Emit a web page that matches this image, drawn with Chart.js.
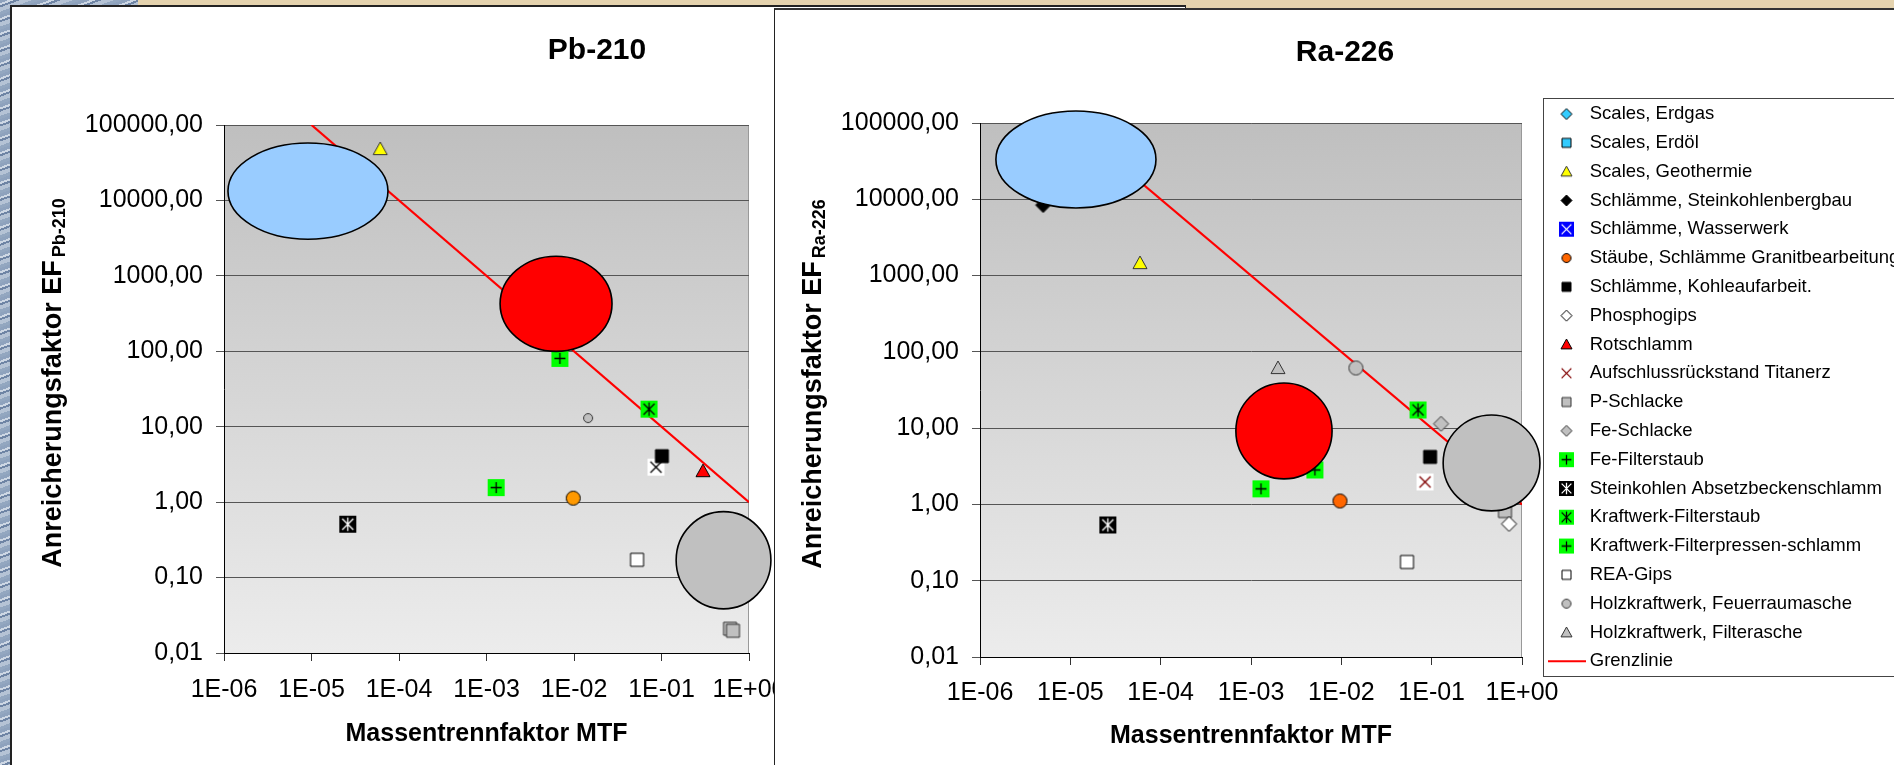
<!DOCTYPE html>
<html>
<head>
<meta charset="utf-8">
<script src="https://cdn.jsdelivr.net/npm/chart.js@4.4.1/dist/chart.umd.min.js"></script>
<style>
  html, body { margin: 0; padding: 0; }
  body { width: 1894px; height: 765px; overflow: hidden; position: relative; background: #e5d3ae; }
  .stone { position: absolute; left: 0; top: 0;
    background: repeating-linear-gradient(160deg, #8ea2bd 0 3px, #cdd7e4 3px 5px, #6e84a4 5px 7px, #b5c3d5 7px 11px, #93a7c0 11px 14px); }
  #stoneLeft { width: 10px; height: 765px; }
  #stoneTop { width: 138px; height: 5px; }
  #panelPb { position: absolute; left: 10px; top: 5px; width: 1173px; height: 800px; background: #fff;
    border-top: 2px solid #222; border-left: 2px solid #222; border-right: 1px solid #222; z-index: 1; }
  #panelRa { position: absolute; left: 774px; top: 8px; width: 1200px; height: 800px; background: #fff;
    border-top: 2px solid #333; border-left: 1px solid #222; z-index: 3; }
  #pb { position: absolute; left: 12px; top: 7px; z-index: 2; }
  #ra { position: absolute; left: 775px; top: 10px; z-index: 4; }
</style>
</head>
<body>
<div class="stone" id="stoneLeft"></div>
<div class="stone" id="stoneTop"></div>
<div id="panelPb"></div>
<div id="panelRa"></div>
<canvas id="pb" width="800" height="758"></canvas>
<canvas id="ra" width="1119" height="755"></canvas>
<script>
const FONT = "'Liberation Sans', Arial, sans-serif";

// ---- data ----
const seriesNames = [
  "Scales, Erdgas",
  "Scales, Erdöl",
  "Scales, Geothermie",
  "Schlämme, Steinkohlenbergbau",
  "Schlämme, Wasserwerk",
  "Stäube, Schlämme Granitbearbeitung",
  "Schlämme, Kohleaufarbeit.",
  "Phosphogips",
  "Rotschlamm",
  "Aufschlussrückstand Titanerz",
  "P-Schlacke",
  "Fe-Schlacke",
  "Fe-Filterstaub",
  "Steinkohlen Absetzbeckenschlamm",
  "Kraftwerk-Filterstaub",
  "Kraftwerk-Filterpressen-schlamm",
  "REA-Gips",
  "Holzkraftwerk, Feuerraumasche",
  "Holzkraftwerk, Filterasche",
  "Grenzlinie",
];

const xTicks = [1e-6, 1e-5, 1e-4, 1e-3, 1e-2, 1e-1, 1];
const yTicks = [0.01, 0.1, 1, 10, 100, 1000, 10000, 100000];

// Pb-210: MTF (x) and EF (y) per series
const pbMTF = [[], [], [6.1e-5], [], [], [0.0098], [0.101], [], [0.298], [0.0865],
  [0.607, 0.656], [], [1.29e-3], [2.6e-5], [0.072], [6.9e-3], [0.0525], [0.0145], [], [1e-5, 1]];
const pbEF = [[], [], [48000], [], [], [1.13], [4.07], [], [2.58], [2.91],
  [0.021, 0.0197], [], [1.56], [0.51], [17.1], [80.5], [0.172], [13], [], [100000, 1]];

// Ra-226
const raMTF = [[], [], [5.9e-5], [5e-6], [], [0.00966], [0.096], [0.718], [], [0.0844],
  [0.648], [0.127], [1.29e-3], [2.6e-5], [0.0706], [5.1e-3], [0.0533], [0.0145], [1.99e-3], [1e-5, 1]];
const raEF = [[], [], [1460], [8400], [], [1.11], [4.2], [0.555], [], [1.97],
  [0.82], [11.4], [1.6], [0.538], [17.3], [2.83], [0.176], [61.5], [61.5], [100000, 1]];

// range ellipses: [min, max] in MTF and EF
const pbRangeMTF = [[1.11e-6, 7.48e-5], [1.43e-3, 0.0272], [0.147, 1.78]];
const pbRangeEF = [[3060, 57700], [99.8, 1820], [0.0385, 0.748]];
const raRangeMTF = [[1.5e-6, 8.87e-5], [6.8e-4, 7.9e-3], [0.134, 1.58]];
const raRangeEF = [[7690, 143600], [2.16, 39.1], [0.822, 14.9]];
const rangeColors = ["#99ccff", "#ff0000", "#c0c0c0"];

// ---- marker styles ----
const markerSpecs = [
  { shape: "diamond", fill: "#33ccff", stroke: "#000" },
  { shape: "square", fill: "#33ccff", stroke: "#000" },
  { shape: "triangle", fill: "#ffff00", stroke: "#333" },
  { shape: "diamond", fill: "#000", stroke: "#000" },
  { shape: "box", fill: "#0000ff", glyph: "x", glyphColor: "#fff" },
  { shape: "circle", fill: "#ff6600", stroke: "#000" },
  { shape: "square", fill: "#000", stroke: "#000" },
  { shape: "diamond", fill: "#fff", stroke: "#000" },
  { shape: "triangle", fill: "#ff0000", stroke: "#000" },
  { shape: "box", fill: "#fff", glyph: "x", glyphColor: "#800000" },
  { shape: "square", fill: "#c0c0c0", stroke: "#333" },
  { shape: "diamond", fill: "#c0c0c0", stroke: "#333" },
  { shape: "box", fill: "#00ff00", glyph: "+", glyphColor: "#000" },
  { shape: "box", fill: "#000", glyph: "*", glyphColor: "#fff" },
  { shape: "box", fill: "#00ff00", glyph: "*", glyphColor: "#000" },
  { shape: "box", fill: "#00ff00", glyph: "+", glyphColor: "#000" },
  { shape: "square", fill: "#fff", stroke: "#000" },
  { shape: "circle", fill: "#c0c0c0", stroke: "#333" },
  { shape: "triangle", fill: "#c0c0c0", stroke: "#333" },
  null,
];
const plotSize = { circle: 15, square: 13, diamond: 15, triangle: 14, box: 17 };
const legendSize = { circle: 10, square: 9, diamond: 11, triangle: 11, box: 15 };
const pbOverrides = { 5: { fill: "#ff9900" }, 9: { glyphColor: "#000" }, 17: { size: 10 } };

function makeMarker(spec, size) {
  const c = document.createElement("canvas");
  const n = size + 4;
  c.width = n; c.height = n;
  const g = c.getContext("2d");
  const m = n / 2, r = size / 2;
  g.lineWidth = 1;
  g.beginPath();
  if (spec.shape === "circle") g.arc(m, m, r - 0.5, 0, Math.PI * 2);
  else if (spec.shape === "square" || spec.shape === "box") g.rect(m - r, m - r, size, size);
  else if (spec.shape === "diamond") {
    g.moveTo(m, m - r); g.lineTo(m + r, m); g.lineTo(m, m + r); g.lineTo(m - r, m); g.closePath();
  } else if (spec.shape === "triangle") {
    g.moveTo(m, m - r); g.lineTo(m + r, m + r * 0.8); g.lineTo(m - r, m + r * 0.8); g.closePath();
  }
  g.fillStyle = spec.fill;
  g.fill();
  if (spec.stroke) { g.strokeStyle = spec.stroke; g.stroke(); }
  if (spec.glyph) {
    const k = r * 0.65;
    g.strokeStyle = spec.glyphColor;
    g.lineWidth = 1.3;
    g.beginPath();
    if (spec.glyph === "x" || spec.glyph === "*") {
      g.moveTo(m - k, m - k); g.lineTo(m + k, m + k);
      g.moveTo(m + k, m - k); g.lineTo(m - k, m + k);
    }
    if (spec.glyph === "+") {
      g.moveTo(m - k, m); g.lineTo(m + k, m);
      g.moveTo(m, m - k); g.lineTo(m, m + k);
    }
    if (spec.glyph === "*") { g.moveTo(m, m - k * 1.2); g.lineTo(m, m + k * 1.2); }
    g.stroke();
  }
  return c;
}

function makeLineIcon() {
  const c = document.createElement("canvas");
  c.width = 38; c.height = 4;
  const g = c.getContext("2d");
  g.strokeStyle = "#ff0000"; g.lineWidth = 2;
  g.beginPath(); g.moveTo(0, 2); g.lineTo(38, 2); g.stroke();
  return c;
}
const lineIcon = makeLineIcon();
const legendIcons = markerSpecs.map(s => s ? makeMarker(s, legendSize[s.shape]) : lineIcon);

function buildDatasets(xs, ys, overrides) {
  return seriesNames.map((name, i) => {
    const pts = xs[i].map((x, j) => ({ x: x, y: ys[i][j] }));
    if (!markerSpecs[i]) {
      return { label: name, data: pts, showLine: true, borderColor: "#ff0000", borderWidth: 2.2,
        pointRadius: 0, pointStyle: lineIcon, order: 100 };
    }
    const spec = Object.assign({}, markerSpecs[i], overrides[i] || {});
    const size = spec.size || plotSize[spec.shape];
    return { label: name, data: pts, pointStyle: makeMarker(spec, size), pointRadius: size / 2 };
  });
}

function expLabel(v) {
  const e = Math.round(Math.log10(v));
  return "1E" + (e < 0 ? "-" : "+") + String(Math.abs(e)).padStart(2, "0");
}

function axes(labelPad, titlePad) {
  return {
    x: {
      type: "logarithmic", min: 1e-6, max: 1,
      afterBuildTicks: s => { s.ticks = xTicks.map(v => ({ value: v })); },
      afterFit: s => { s.height = 100; },
      ticks: { callback: v => expLabel(v), font: { size: 25 }, color: "#000", padding: labelPad,
        autoSkip: false, maxRotation: 0, minRotation: 0 },
      grid: { drawOnChartArea: false, drawTicks: true, tickLength: 8, color: "#333" },
      border: { display: true, color: "#000", width: 1 },
      title: { display: true, text: "Massentrennfaktor MTF", color: "#000",
        font: { size: 25, weight: "bold" }, padding: { top: 0, bottom: titlePad } },
    },
    y: {
      type: "logarithmic", min: 0.01, max: 100000,
      afterBuildTicks: s => { s.ticks = yTicks.map(v => ({ value: v })); },
      afterFit: s => { s.width = 140; },
      ticks: { callback: v => Number(v).toFixed(2).replace(".", ","), font: { size: 25 }, color: "#000",
        padding: 13, autoSkip: false },
      grid: { color: "#555", tickLength: 8, drawTicks: true },
      border: { display: true, color: "#000", width: 1 },
    },
  };
}

// ---- plugins ----
const plotBg = {
  id: "plotBg",
  beforeDraw(chart) {
    const { ctx, chartArea: a } = chart;
    const gr = ctx.createLinearGradient(0, a.top, 0, a.bottom);
    gr.addColorStop(0, "#bfbfbf");
    gr.addColorStop(1, "#ececec");
    ctx.save();
    ctx.fillStyle = gr;
    ctx.fillRect(a.left, a.top, a.right - a.left, a.bottom - a.top);
    ctx.strokeStyle = "#999";
    ctx.lineWidth = 1;
    ctx.beginPath();
    ctx.moveTo(a.left, a.top + 0.5);
    ctx.lineTo(a.right - 0.5, a.top + 0.5);
    ctx.lineTo(a.right - 0.5, a.bottom);
    ctx.stroke();
    ctx.restore();
  },
};

const ranges = {
  id: "ranges",
  afterDatasetsDraw(chart, args, o) {
    const { ctx, scales: { x, y } } = chart;
    ctx.save();
    o.xs.forEach((xr, i) => {
      const x0 = x.getPixelForValue(xr[0]), x1 = x.getPixelForValue(xr[1]);
      const y0 = y.getPixelForValue(o.ys[i][0]), y1 = y.getPixelForValue(o.ys[i][1]);
      ctx.beginPath();
      ctx.ellipse((x0 + x1) / 2, (y0 + y1) / 2, Math.abs(x1 - x0) / 2, Math.abs(y1 - y0) / 2, 0, 0, Math.PI * 2);
      ctx.fillStyle = rangeColors[i];
      ctx.fill();
      ctx.lineWidth = 1.6;
      ctx.strokeStyle = "#000";
      ctx.stroke();
    });
    ctx.restore();
  },
};

const texts = {
  id: "texts",
  afterDraw(chart, args, o) {
    const { ctx, chartArea: a } = chart;
    ctx.save();
    ctx.fillStyle = "#000";
    ctx.font = "bold 30px " + FONT;
    ctx.textAlign = "center";
    ctx.textBaseline = "middle";
    ctx.fillText(o.title, o.titleX, o.titleY);
    ctx.translate(o.yTitleX, (a.top + a.bottom) / 2 - 6);
    ctx.rotate(-Math.PI / 2);
    ctx.font = "bold 27px " + FONT;
    const mw = ctx.measureText(o.yTitle).width;
    ctx.font = "bold 18px " + FONT;
    const sw = ctx.measureText(o.ySub).width;
    const start = -(mw + 3 + sw) / 2;
    ctx.textAlign = "left";
    ctx.textBaseline = "alphabetic";
    ctx.font = "bold 27px " + FONT;
    ctx.fillText(o.yTitle, start, 9.5);
    ctx.font = "bold 18px " + FONT;
    ctx.fillText(o.ySub, start + mw + 3, 14);
    ctx.restore();
  },
};

const legendBox = {
  id: "legendBox",
  afterLayout(chart, args, o) {
    const lg = chart.legend;
    if (!lg || !lg.options.display) return;
    lg.left = o.left; lg.top = o.top;
    lg.width = o.width; lg.height = o.height;
    lg.right = o.left + o.width; lg.bottom = o.top + o.height;
  },
  afterDraw(chart, args, o) {
    if (!o.frame) return;
    const ctx = chart.ctx;
    ctx.save();
    ctx.strokeStyle = "#444";
    ctx.lineWidth = 1;
    ctx.strokeRect(o.frame[0] + 0.5, o.frame[1] + 0.5, o.frame[2], o.frame[3]);
    ctx.restore();
  },
};

Chart.defaults.font.family = FONT;

// ---- Pb-210 ----
new Chart(document.getElementById("pb"), {
  type: "scatter",
  data: { datasets: buildDatasets(pbMTF, pbEF, pbOverrides) },
  options: {
    responsive: false,
    animation: false,
    events: [],
    layout: { padding: { left: 72, top: 118, right: 63, bottom: 12 } },
    scales: axes(14, 4),
    plugins: {
      legend: { display: false },
      tooltip: { enabled: false },
      ranges: { xs: pbRangeMTF, ys: pbRangeEF },
      texts: { title: "Pb-210", titleX: 585, titleY: 44, yTitle: "Anreicherungsfaktor EF", ySub: "Pb-210", yTitleX: 39 },
    },
  },
  plugins: [plotBg, ranges, texts],
});

// ---- Ra-226 ----
new Chart(document.getElementById("ra"), {
  type: "scatter",
  data: { datasets: buildDatasets(raMTF, raEF, {}) },
  options: {
    responsive: false,
    animation: false,
    events: [],
    layout: { padding: { left: 65, top: 113, right: 72, bottom: 8 } },
    scales: axes(13, 6),
    plugins: {
      legend: {
        display: true,
        position: "right",
        align: "start",
        maxWidth: 300,
        labels: {
          usePointStyle: true,
          pointStyleWidth: 28,
          padding: 10.3,
          color: "#000",
          font: { size: 18.5 },
          generateLabels(chart) {
            const items = Chart.defaults.plugins.legend.labels.generateLabels(chart);
            items.forEach(it => { it.pointStyle = legendIcons[it.datasetIndex]; });
            return items;
          },
        },
      },
      tooltip: { enabled: false },
      legendBox: { left: 767.2, top: 84.5, width: 400, height: 620, frame: [768, 88, 400, 578] },
      ranges: { xs: raRangeMTF, ys: raRangeEF },
      texts: { title: "Ra-226", titleX: 570, titleY: 43, yTitle: "Anreicherungsfaktor EF", ySub: "Ra-226", yTitleX: 36 },
    },
  },
  plugins: [plotBg, ranges, texts, legendBox],
});
</script>
</body>
</html>
